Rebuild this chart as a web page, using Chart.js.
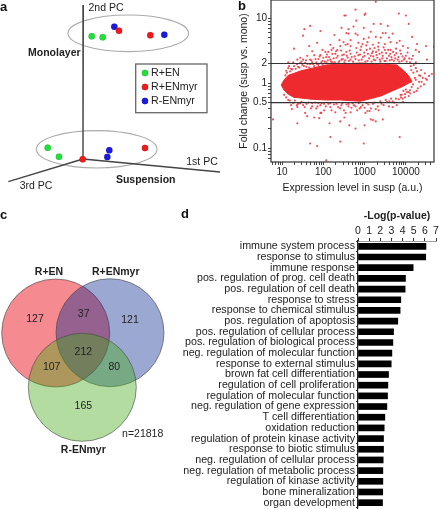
<!DOCTYPE html>
<html lang="en">
<head>
<meta charset="UTF-8">
<title>Suspension vs monolayer expression</title>
<script src="https://cdn.jsdelivr.net/npm/chart.js"></script>
<style>
    body { margin: 0; background: #fff; }
    #page { position: relative; width: 439px; height: 509px; overflow: hidden; }
    canvas { position: absolute; }
    .letter { position: absolute; font: bold 13px "Liberation Sans", sans-serif; color: #111; }
</style>
</head>
<body>
<div id="page">
    <canvas id="pca" width="225" height="200" style="left:0px;top:0px"></canvas>
    <canvas id="venn" width="190" height="255" style="left:0px;top:205px"></canvas>
    <canvas id="ma" width="214" height="200" style="left:225px;top:0px"></canvas>
    <canvas id="go" width="269" height="304" style="left:170px;top:205px"></canvas>
    <div class="letter" style="left:0;top:-1px">a</div>
    <div class="letter" style="left:238px;top:-2px">b</div>
    <div class="letter" style="left:0;top:207px">c</div>
    <div class="letter" style="left:181px;top:206px">d</div>
</div>

<script>
// panel a: PCA projection, positions
const pcaGreen = [[91.7, 36.3], [102.7, 37.3], [47.7, 147.7], [59, 156.7]];
const pcaRed = [[119, 30.7], [150.3, 35.3], [145, 148], [82.7, 159.3]];
const pcaBlue = [[114.3, 26.7], [164.3, 34.7], [109.3, 150.3], [107.3, 157]];
const pcaAxes = [
    [[83.3, 5], [83, 159]],
    [[83, 159], [220, 172]],
    [[83, 159], [8.3, 181.7]]
];
const pcaClusters = [[128.3, 33.3, 60.3, 18.3], [96.7, 149.3, 60.3, 18.7]];
const legendNames = ['R+EN', 'R+ENmyr', 'R-ENmyr'];
const legendColors = ['#22e03a', '#f01a1a', '#1a1ae0'];

// panel b: log10(expression), log10(fold change)
const bodyLogX = [0.98, 1.05, 1.15, 1.29, 1.46, 1.73, 2.07, 2.41, 2.90, 3.39, 3.78, 3.93, 4.07, 4.15];
const bodyLogUpper = [-.03, .05, .12, .15, .19, .23, .28, .29, .31, .29, .28, .20, .11, .02];
const bodyLogLower = [-.03, -.11, -.17, -.22, -.23, -.25, -.26, -.26, -.28, -.20, -.09, -.05, 0, .02];
const scatterLog = [
    [2.51,1.04],[2.54,1.04],[1.68,.88],[1.54,.83],[1.93,.80],[1.51,.73],[2.44,.85],[2.61,.83],[2.27,.74],[2.56,.77],[2.61,.76],[2.39,.66],[1.85,.62],[1.29,.53],[1.66,.57],
    [2.66,.66],[2.54,.59],[2.17,.59],[2.20,.51],[2.12,.48],[2.24,.54],[2.34,.51],[2.41,.57],[2.49,.63],[2.59,.60],[2.66,.57],[1.73,.49],[1.98,.51],[1.78,.43],[1.93,.43],[2.07,.40],[1.88,.37],[2.05,.48],[1.61,.42],[1.44,.39],[1.27,.32],[1.15,.32],[1.37,.36],[1.51,.36],[1.68,.36],[1.83,.32],[1.98,.34],[2.17,.36],[2.32,.39],[2.46,.43],[2.56,.48],[2.66,.45],[2.29,.45],[2.44,.36],[2.59,.39],
    [1.17,.26],[1.22,.22],[1.29,.26],[1.39,.25],[1.49,.28],[1.59,.25],[1.68,.29],[1.78,.26],[1.10,.19],[1.15,.23],[1.44,.31],[1.56,.31],[1.73,.32],[1.88,.28],[1.98,.29],[2.07,.32],[2.22,.32],[2.37,.32],[2.51,.32],[2.66,.36],
    [3.27,1.25],[2.78,1.13],[3.02,1.07],[3.00,1.05],[3.83,1.07],[4.00,1.04],[2.80,.96],[2.73,.87],[2.98,.85],[3.22,.91],[3.39,.91],[3.56,.88],[4.07,.91],[3.15,.79],[3.44,.77],[3.51,.77],[3.68,.76],[2.78,.76],[2.83,.74],[4.15,.71],[4.27,.60],[4.49,.57],[4.68,.56],[4.24,.51],[4.32,.48],[4.51,.36],
    [2.98,.68],[3.10,.70],[3.27,.71],[3.39,.70],[3.59,.70],[2.85,.62],[2.95,.60],[3.07,.63],[3.20,.59],[3.34,.62],[3.49,.60],[3.63,.63],[3.78,.62],[3.85,.65],[3.93,.57],[4.05,.54],[3.76,.53],[3.63,.51],[3.49,.51],[3.34,.51],[3.20,.49],[3.05,.51],[2.90,.51],[2.80,.54],
    [2.85,.43],[3.00,.42],[3.15,.42],[3.29,.43],[3.44,.42],[3.59,.42],[3.73,.43],[3.88,.45],[4.00,.42],[4.17,.42],[2.78,.37],[2.93,.36],[3.07,.34],[3.22,.36],[3.37,.36],[3.51,.34],[3.66,.36],[3.80,.36],[3.95,.36],[4.10,.32],[4.24,.32],
    [4.12,.26],[4.24,.23],[4.37,.20],[4.46,.15],[4.56,.11],[4.63,.14],[4.32,.12],[4.41,.08],[4.51,.05],[4.22,.08],[4.32,.02],[4.17,-.02],[4.29,-.08],[4.44,-.02],[4.10,-.11],[4.20,-.14],[3.98,-.17],[4.07,-.20],[3.88,-.22],
    [.78,-.56],[1.37,-.62],[1.56,-.46],[1.61,-.51],[1.78,-.53],[1.93,-.46],[1.90,-.54],[1.95,-.46],[2.15,-.62],[1.68,-.93],[1.85,-.97],[2.17,-.83],[2.41,-.90],[2.07,-1.19],[2.41,-.59],[2.63,-.65],[2.54,-.46],[2.51,-.53],[1.24,-.40],[1.22,-.34],[1.39,-.32],[1.37,-.37],[1.51,-.34],[1.73,-.36],[1.83,-.39],[1.93,-.34],[2.02,-.42],[2.17,-.37],[2.29,-.45],[2.41,-.39],[2.61,-.36],[2.66,-.45],
    [1.15,-.26],[1.27,-.31],[1.44,-.31],[1.59,-.32],[1.73,-.31],[1.88,-.31],[2.02,-.32],[2.17,-.31],[2.32,-.32],[2.46,-.31],[2.61,-.32],[2.71,-.31],
    [2.78,-.70],[3.00,-.65],[2.98,-.93],[3.85,-.83],[3.44,-.56],[3.20,-.57],[3.27,-.59],[3.15,-.56],[3.02,-.46],[3.07,-.43],[2.78,-.36],[2.88,-.39],[2.95,-.34],[3.15,-.39],[3.34,-.42],[3.32,-.36],[3.59,-.36],[3.68,-.37],[3.78,-.34],[3.93,-.29],[3.20,-.32],[3.05,-.31],[3.41,-.32],[3.54,-.29],[3.68,-.28],[3.83,-.25],[3.98,-.22],[4.07,-.14],
    [2.72,.33],[2.76,.41],[2.81,.47],[2.86,.35],[2.89,.44],[2.92,.56],[2.96,.40],[2.99,.47],[3.02,.33],[3.04,.58],[3.08,.45],[3.11,.38],[3.13,.53],[3.17,.33],[3.18,.46],[3.21,.41],[3.24,.54],[3.26,.35],[3.28,.48],[3.31,.39],[3.33,.56],[3.36,.45],[3.38,.33],[3.42,.47],[3.43,.38],[3.46,.55],[3.48,.34],[3.52,.46],[3.54,.38],[3.57,.51],[3.61,.35],[3.62,.45],[3.65,.40],[3.69,.48],[3.71,.34],[3.74,.38],[3.77,.46],[3.82,.40],[3.84,.33],[3.86,.50],[3.90,.34],[3.92,.41],[3.97,.38],[4.02,.33],[4.04,.47],[4.08,.38],[4.14,.37],[4.19,.28],[4.13,.20],[4.18,.16],[4.27,.18],[4.35,.11],[4.24,.05],[4.38,.02],[4.48,.07],[4.36,-.05],[4.26,-.12],[4.14,-.06],[4.11,-.16],[4.03,-.14],[3.94,-.12],[3.90,-.18],
    [1.08,.12],[1.12,.16],[1.20,.18],[1.25,.21],[1.33,.22],[1.36,.29],[1.42,.24],[1.47,.33],[1.53,.26],[1.58,.35],[1.62,.29],[1.66,.24],[1.71,.35],[1.75,.29],[1.81,.37],[1.85,.29],[1.91,.41],[1.95,.32],[2.00,.39],[2.03,.33],[2.09,.44],[2.11,.35],[2.14,.40],[2.19,.33],[2.22,.45],[2.25,.38],[2.28,.32],[2.31,.49],[2.35,.42],[2.39,.34],[2.43,.50],[2.47,.37],[2.50,.44],[2.53,.35],[2.57,.42],[2.62,.34],[2.64,.50],[2.69,.40],
    [1.05,-.18],[1.10,-.22],[1.19,-.27],[1.31,-.27],[1.36,-.34],[1.47,-.29],[1.55,-.37],[1.64,-.30],[1.70,-.39],[1.80,-.30],[1.86,-.36],[1.96,-.31],[2.06,-.36],[2.12,-.32],[2.20,-.42],[2.26,-.33],[2.36,-.37],[2.44,-.34],[2.50,-.42],[2.56,-.33],[2.68,-.38],[2.74,-.34],[2.82,-.42],[2.86,-.31],[2.91,-.37],[3.00,-.38],[3.09,-.33],[3.12,-.43],[3.24,-.30],[3.27,-.40],[3.38,-.28],[3.46,-.34],[3.51,-.26],[3.60,-.28],[3.64,-.24],[3.72,-.30],[3.76,-.24],[3.87,-.18],[3.92,-.24],[4.00,-.10]
];
const foldLines = [2, 0.5];
const xTickValues = [6,7,8,9,10,20,30,40,50,60,70,80,90,100,200,300,400,500,600,700,800,900,1000,2000,3000,4000,5000,6000,7000,8000,9000,10000,20000,30000,40000];
const xTickLabels = [10, 100, 1000, 10000];
const yTickValues = [.07,.08,.09,.1,.2,.3,.4,.5,.6,.7,.8,.9,1,2,3,4,5,6,7,8,9,10];
const yTickLabels = [0.1, 0.5, 1, 2, 10];

// panel c: venn circles and counts
const vennCircles = [[55.7, 128, 54], [110, 127.7, 54], [82.3, 182.3, 54]];
const vennFills = ['rgb(245,138,144)', 'rgba(5,37,142,0.4)', 'rgba(65,170,17,0.4)'];
const vennCounts = [['127', 35, 113.7], ['37', 83.7, 108.7], ['121', 130, 115], ['212', 83.3, 146.7], ['107', 51.7, 162], ['80', 114.3, 162], ['165', 83.3, 201]];

// panel d: GO terms
const goTerms = [
    'immune system process', 'response to stimulus', 'immune response',
    'pos. regulation of prog. cell death', 'pos. regulation of cell death', 'response to stress',
    'response to chemical stimulus', 'pos. regulation of apoptosis', 'pos. regulation of cellular process',
    'pos. regulation of biological process', 'neg. regulation of molecular function', 'response to external stimulus',
    'brown fat cell differentiation', 'regulation of cell proliferation', 'regulation of molecular function',
    'neg. regulation of gene expression', 'T cell differentiation', 'oxidation reduction',
    'regulation of protein kinase activity', 'response to biotic stimulus', 'neg. regulation of cellular process',
    'neg. regulation of metabolic process', 'regulation of kinase activity', 'bone mineralization', 'organ development'
];
const goValues = [6.1, 6.08, 4.95, 4.26, 4.23, 3.84, 3.78, 3.57, 3.19, 3.13, 3.04, 2.98, 2.74, 2.68, 2.65, 2.59, 2.41, 2.35, 2.29, 2.29, 2.26, 2.23, 2.23, 2.22, 2.2];

const FONT = '"Liberation Sans", sans-serif';
Chart.defaults.font.family = FONT;
Chart.defaults.color = '#222';
Chart.defaults.animation = false;
Chart.defaults.responsive = false;
Chart.defaults.layout.autoPadding = false;
Chart.defaults.plugins.legend.display = false;
Chart.defaults.plugins.tooltip.enabled = false;

const toXY = p => ({ x: p[0], y: p[1] });

// schematic panels use a hidden scale the size of the canvas
const hiddenScales = (w, h) => ({
    x: { type: 'linear', min: 0, max: w, display: false },
    y: { type: 'linear', min: 0, max: h, reverse: true, display: false }
});

// fixed axis boxes so the plot area lands where the reference has it
const fitX = h => s => { s.height = h; s.paddingLeft = 0; s.paddingRight = 0; };
const fitY = w => s => { s.width = w; s.paddingTop = 0; s.paddingBottom = 0; };

const textPlugin = items => ({
    id: 'panelText',
    afterDatasetsDraw(chart) {
        const { ctx, scales } = chart;
        ctx.save();
        ctx.textAlign = 'center';
        ctx.textBaseline = 'middle';
        ctx.fillStyle = '#222';
        items.forEach(it => {
            ctx.font = (it.bold ? 'bold ' : '') + (it.size || 10.5) + 'px ' + FONT;
            ctx.textAlign = it.align || 'center';
            ctx.fillText(it.text, scales.x.getPixelForValue(it.x), scales.y.getPixelForValue(it.y));
        });
        ctx.restore();
    }
});

// panel a
new Chart(document.getElementById('pca'), {
    type: 'scatter',
    data: {
        datasets: [
            { data: pcaGreen.map(toXY), backgroundColor: legendColors[0], pointRadius: 3.2, order: 0 },
            { data: pcaRed.map(toXY), backgroundColor: legendColors[1], pointRadius: 3.2, order: 0 },
            { data: pcaBlue.map(toXY), backgroundColor: legendColors[2], pointRadius: 3.2, order: 0 },
            { data: legendNames.map((n, i) => ({ x: 145, y: 73 + i * 14 })), backgroundColor: legendColors, pointRadius: 3.2, order: 0 },
            ...pcaAxes.map(a => ({ data: a.map(toXY), showLine: true, borderColor: '#444', borderWidth: 1.4, pointRadius: 0, order: 1 }))
        ]
    },
    options: { layout: { padding: 0 }, scales: hiddenScales(225, 200) },
    plugins: [{
        id: 'pcaShapes',
        beforeDatasetsDraw(chart) {
            const { ctx, scales: { x, y } } = chart;
            ctx.save();
            ctx.strokeStyle = '#aaa';
            ctx.lineWidth = 1.1;
            pcaClusters.forEach(c => {
                ctx.beginPath();
                ctx.ellipse(x.getPixelForValue(c[0]), y.getPixelForValue(c[1]), c[2], c[3], 0, 0, 2 * Math.PI);
                ctx.stroke();
            });
            ctx.strokeStyle = '#666';
            ctx.lineWidth = 1.3;
            ctx.strokeRect(x.getPixelForValue(135.7), y.getPixelForValue(64), 71.3, 48.7);
            ctx.restore();
        }
    }, textPlugin([
        { text: '2nd PC', x: 106, y: 8.3 },
        { text: 'Monolayer', x: 54.3, y: 53, bold: true },
        { text: '1st PC', x: 202, y: 162 },
        { text: '3rd PC', x: 36, y: 185.7 },
        { text: 'Suspension', x: 145.7, y: 180.3, bold: true },
        ...legendNames.map((n, i) => ({ text: n, x: 151, y: 73 + i * 14, align: 'left', size: 10.7 }))
    ])]
});

// panel b
new Chart(document.getElementById('ma'), {
    type: 'scatter',
    data: {
        datasets: [
            ...foldLines.map(v => ({
                data: [{ x: 5.4, y: v }, { x: 48000, y: v }],
                showLine: true, borderColor: '#333', borderWidth: 1.1, pointRadius: 0, order: 0
            })),
            {
                data: scatterLog.map(p => ({ x: 10 ** p[0], y: 10 ** p[1] })),
                backgroundColor: 'rgba(236,40,50,0.8)', pointRadius: 1.1, borderWidth: 0, order: 1
            },
            {
                data: bodyLogX.map((v, i) => ({ x: 10 ** v, y: 10 ** bodyLogUpper[i] })),
                showLine: true, borderColor: '#ee2a2e', borderWidth: 1, pointRadius: 0,
                fill: '+1', backgroundColor: '#ee2a2e', order: 2
            },
            {
                data: bodyLogX.map((v, i) => ({ x: 10 ** v, y: 10 ** bodyLogLower[i] })),
                showLine: true, borderColor: '#ee2a2e', borderWidth: 1, pointRadius: 0, order: 3
            }
        ]
    },
    options: {
        layout: { padding: { left: 13, right: 5, top: 0, bottom: 6 } },
        scales: {
            x: {
                type: 'logarithmic', min: 5.4, max: 48000,
                afterBuildTicks: s => { s.ticks = xTickValues.map(v => ({ value: v })); },
                afterFit: fitX(32),
                grid: { drawOnChartArea: false, tickLength: 3, color: '#444' },
                border: { display: false },
                ticks: {
                    autoSkip: false, maxRotation: 0, padding: 1, font: { size: 10 },
                    callback: v => xTickLabels.includes(v) ? String(v) : ''
                },
                title: { display: true, text: 'Expression level in susp (a.u.)', font: { size: 10.5 }, padding: { top: 3, bottom: 0 } }
            },
            y: {
                type: 'logarithmic', min: 0.061, max: 19,
                afterBuildTicks: s => { s.ticks = yTickValues.map(v => ({ value: v })); },
                afterFit: fitY(33),
                grid: { drawOnChartArea: false, tickLength: 3, color: '#444' },
                border: { display: false },
                ticks: {
                    autoSkip: false, padding: 1, font: { size: 10 },
                    callback: v => yTickLabels.includes(v) ? String(v) : ''
                },
                title: { display: true, text: 'Fold change (susp vs. mono)', font: { size: 10.5 }, padding: { top: 0, bottom: 2 } }
            }
        }
    },
    plugins: [{
        id: 'plotBox',
        afterDraw(chart) {
            const { ctx, chartArea: a } = chart;
            ctx.save();
            ctx.strokeStyle = '#333';
            ctx.lineWidth = 1.2;
            ctx.strokeRect(a.left, a.top, a.right - a.left, a.bottom - a.top);
            ctx.restore();
        }
    }]
});

// panel c
new Chart(document.getElementById('venn'), {
    type: 'bubble',
    data: {
        datasets: vennCircles.map((c, i) => ({
            data: [{ x: c[0], y: c[1], r: c[2] }],
            backgroundColor: vennFills[i],
            borderColor: 'rgba(70,70,70,0.6)',
            borderWidth: 1,
            order: vennCircles.length - i
        }))
    },
    options: { layout: { padding: 0 }, clip: false, scales: hiddenScales(190, 255) },
    plugins: [textPlugin([
        { text: 'R+EN', x: 49, y: 67, bold: true },
        { text: 'R+ENmyr', x: 115.7, y: 67, bold: true },
        { text: 'R-ENmyr', x: 83.3, y: 245, bold: true },
        { text: 'n=21818', x: 142.7, y: 229 },
        ...vennCounts.map(c => ({ text: c[0], x: c[1], y: c[2] }))
    ])]
});

// panel d
new Chart(document.getElementById('go'), {
    type: 'bar',
    data: {
        labels: goTerms,
        datasets: [{ data: goValues, backgroundColor: '#000', barThickness: 6 }]
    },
    options: {
        indexAxis: 'y',
        layout: { padding: { right: 3, bottom: 1 } },
        scales: {
            x: {
                position: 'top', min: 0, max: 7,
                afterFit: fitX(36),
                grid: { drawOnChartArea: false, tickLength: 3, color: '#333' },
                border: { color: '#999' },
                ticks: { stepSize: 1, padding: 1, maxRotation: 0, font: { size: 10.5 } },
                title: { display: true, text: '-Log(p-value)', font: { size: 10.5, weight: 'bold' }, padding: { top: 5, bottom: 0 } }
            },
            y: {
                afterFit: fitY(188),
                grid: { drawOnChartArea: false, tickLength: 2, color: '#333' },
                border: { color: '#222', width: 1.2 },
                ticks: { autoSkip: false, padding: 1, font: { size: 10.7 }, color: '#222' }
            }
        }
    }
});
</script>
</body>
</html>
